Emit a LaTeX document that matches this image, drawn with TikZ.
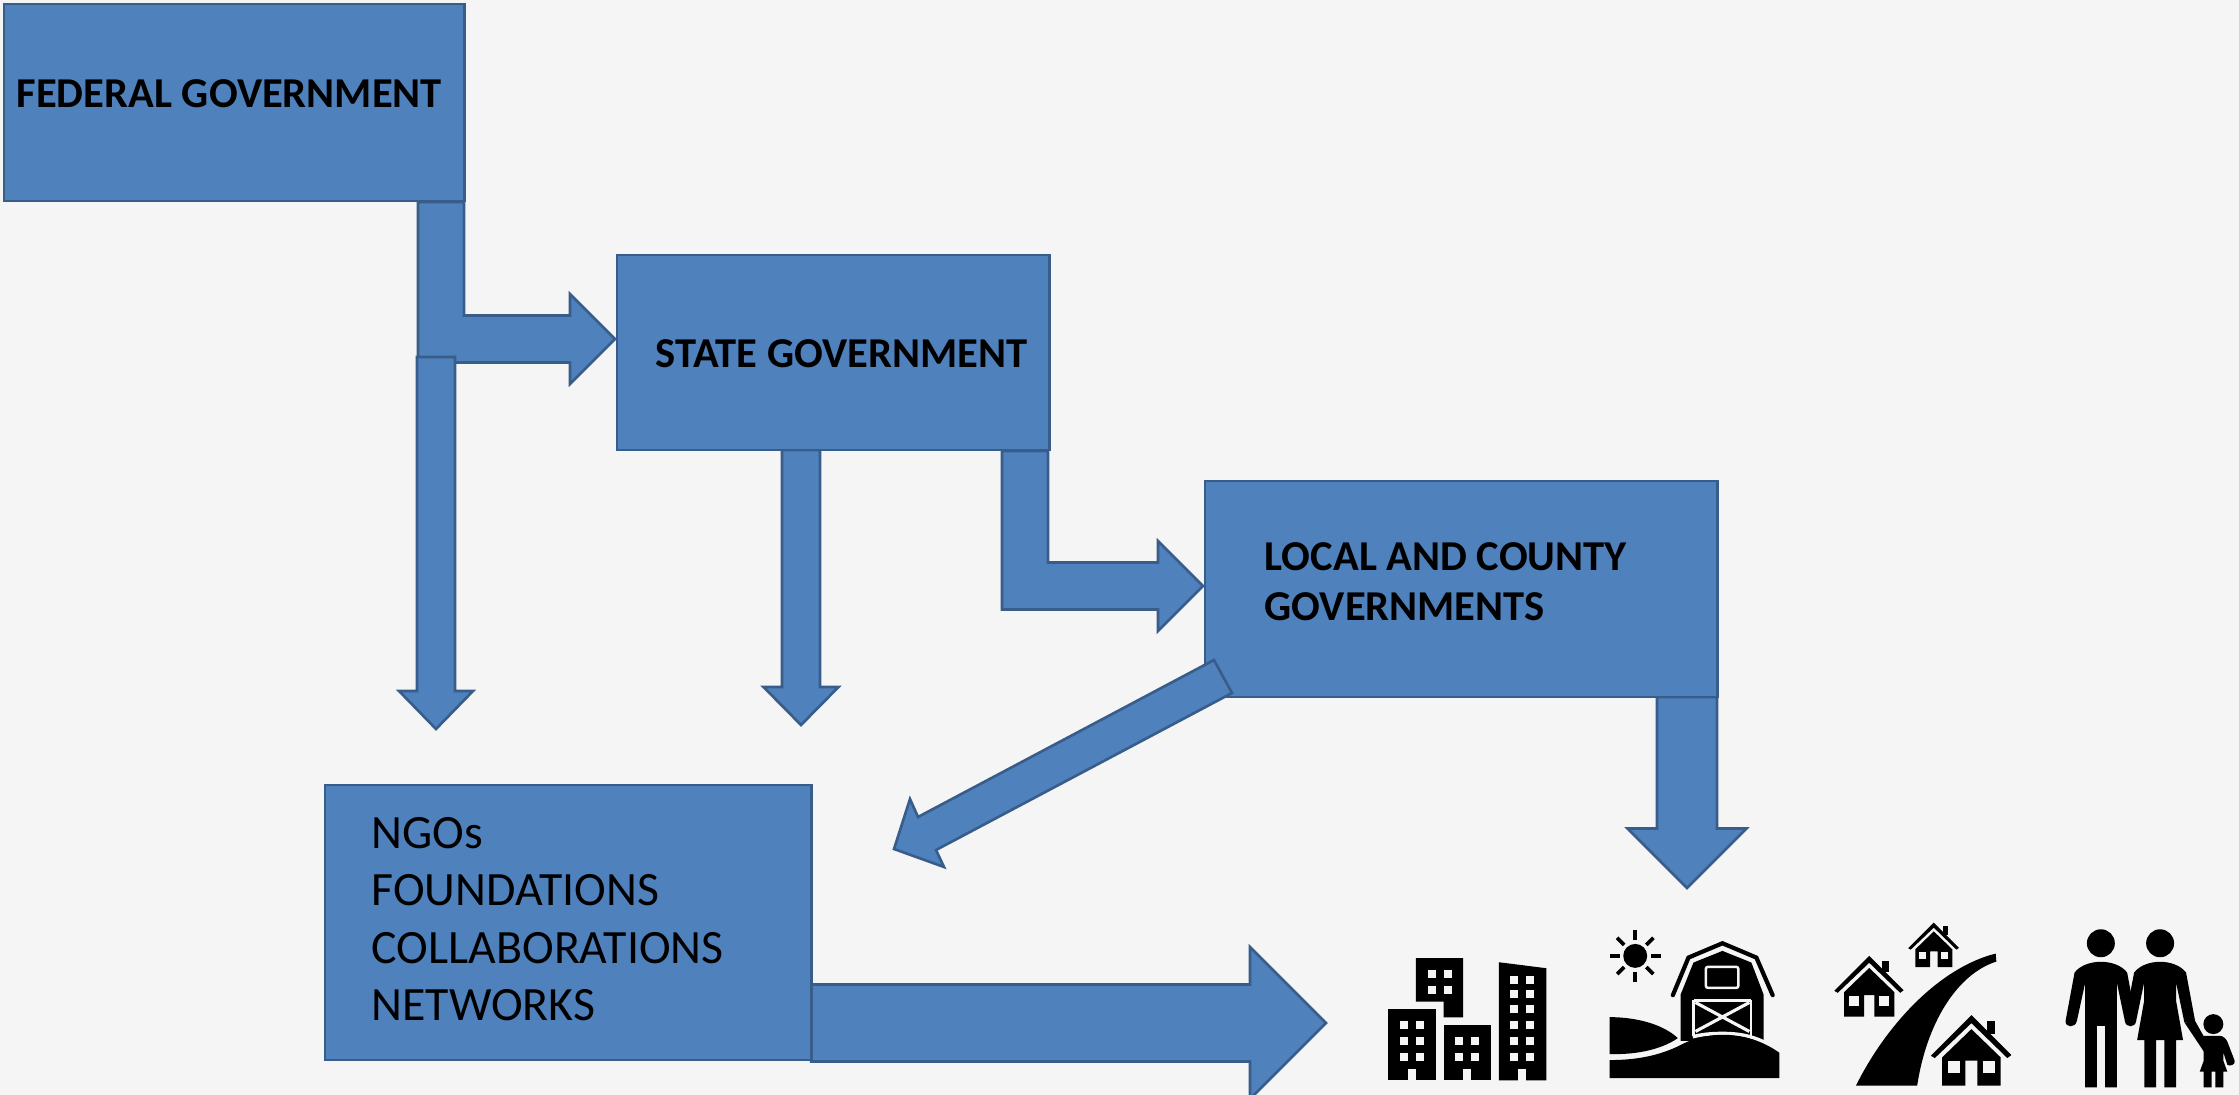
\documentclass[tikz,border=0pt]{standalone}
\usepackage{fontspec}
\setmainfont{Carlito}
\usetikzlibrary{calc}
\definecolor{paper}{HTML}{F5F5F5}
\definecolor{boxblue}{HTML}{4F81BD}
\definecolor{boxedge}{HTML}{385D8A}
\pgfdeclarelayer{paperlayer}
\pgfdeclarelayer{backlayer}
\pgfsetlayers{paperlayer,backlayer,main}
\tikzset{
govbox/.style={draw=boxedge,fill=boxblue,line width=0.75pt,anchor=north west,inner sep=0,outer sep=0},
blockarrow/.style={draw=boxedge,fill=boxblue,line width=0.75pt,line join=miter},
govtext/.style={anchor=west,inner sep=0,align=left,font=\fontsize{12.1}{14.2}\selectfont\bfseries},
ngotext/.style={anchor=west,inner sep=0,align=left,font=\fontsize{13.6}{16.3}\selectfont},
icon/.style={fill=black,draw=none},
gap/.style={fill=paper,draw=none},
}
\begin{document}
\begin{tikzpicture}[x=0.01cm,y=-0.01cm]
\begin{pgfonlayer}{paperlayer}
\fill[paper] (0,0) rectangle (2239,1095);
\end{pgfonlayer}
\useasboundingbox (0,0) rectangle (2239,1095);
\node[govbox,minimum width=4.60cm,minimum height=1.97cm] (federal) at (4,4) {};
\node[govbox,minimum width=4.32cm,minimum height=1.95cm] (state) at (617,255) {};
\node[govbox,minimum width=5.12cm,minimum height=2.16cm] (local) at (1205,481) {};
\node[govbox,minimum width=4.86cm,minimum height=2.75cm] (ngo) at (325,785) {};
\node[govtext] (federaltext) at (16,94) {FEDERAL GOVERNMENT};
\node[govtext] (statetext) at (655,354) {STATE GOVERNMENT};
\node[govtext] (localtext) at (1264,582) {LOCAL AND COUNTY\\GOVERNMENTS};
\node[ngotext] (ngotext) at (371,919) {NGOs\\FOUNDATIONS\\COLLABORATIONS\\NETWORKS};
\coordinate (fedjoin) at (436,357);
\coordinate (ngotipa) at (436,729);
\coordinate (ngotipb) at (801,725);
\coordinate (placetip) at (1687,888);
\coordinate (fedstem) at (441,202);
\coordinate (statein) at (615,339);
\coordinate (statestem) at (1025,451);
\coordinate (localin) at (1203,586);
\coordinate (bigtip) at (1326,1023);
\coordinate (ngoin) at (894,849);
\begin{pgfonlayer}{backlayer}
\foreach \src/\dst in {fedstem/statein,statestem/localin}{
\draw[blockarrow] ($(\src)+(-23,0)$) -- ($(\src |- \dst)+(-23,23.5)$) -- ($(\dst)+(-45,23.5)$) -- ($(\dst)+(-45,45)$) -- (\dst) -- ($(\dst)+(-45,-45)$) -- ($(\dst)+(-45,-23.5)$) -- ($(\src |- \dst)+(23,-23.5)$) -- ($(\src)+(23,0)$) -- cycle;
}
\foreach \src/\dst/\sw/\hw/\hl in {state.south/ngotipb/19/37.5/38,local.south/placetip/30/59.5/59.5,fedjoin/ngotipa/19/37/38}{
\draw[blockarrow] ($(\src -| \dst)+(-\sw,0)$) -- ($(\dst)+(-\sw,-\hl)$) -- ($(\dst)+(-\hw,-\hl)$) -- (\dst) -- ($(\dst)+(\hw,-\hl)$) -- ($(\dst)+(\sw,-\hl)$) -- ($(\src -| \dst)+(\sw,0)$) -- cycle;
}
\draw[blockarrow] ($(ngo.east |- bigtip)+(0,-38.5)$) -- ($(bigtip)+(-76,-38.5)$) -- ($(bigtip)+(-76,-76)$) -- (bigtip) -- ($(bigtip)+(-76,76)$) -- ($(bigtip)+(-76,38.5)$) -- ($(ngo.east |- bigtip)+(0,38.5)$) -- cycle;
\end{pgfonlayer}
\draw[blockarrow] (1214,660) -- (918,817) -- (910,799) -- (ngoin) -- (944,867) -- (936,850) -- (1232,693) -- cycle;
\begin{scope}[shift={(1360,901)},x=0.003333cm,y=-0.003333cm]
\fill[icon] (85,326) rectangle (227,539);
\fill[icon] (168,172) -- (310,172) -- (310,350) -- (251,350) -- (251,302) -- (168,302) -- cycle;
\fill[icon] (251,373) rectangle (393,539);
\fill[icon] (417,184) -- (560,202) -- (560,539) -- (417,539) -- cycle;
\foreach \x/\y in {120/361,167/361,120/408,167/408,120/456,167/456,204/208,251/208,204/255,251/255,286/408,334/408,286/456,334/456,452/225,500/225,452/267,500/267,452/314,500/314,452/361,500/361,452/408,500/408,452/456,500/456}{
\fill[gap] (\x,\y) rectangle ++(24,24);
}
\foreach \x in {145,310,476}{
\fill[gap] (\x,504) rectangle ++(23,36);
}
\fill[icon] (827,165) circle (36);
\foreach \a in {0,45,...,315}{
\draw[line width=1.05pt] ($(827,165)+({47*cos(\a)},{47*sin(\a)})$) -- ($(827,165)+({77*cos(\a)},{77*sin(\a)})$);
}
\draw[line width=1.2pt,line cap=round,miter limit=10] (940,283) -- (987,170) -- (1089,127) -- (1191,170) -- (1240,283);
\fill[icon] (963,420) -- (963,282) -- (1002,185) -- (1089,150) -- (1176,185) -- (1213,282) -- (1213,420) -- cycle;
\draw[paper,line width=0.7pt,rounded corners=0.6pt] (1039,198) rectangle (1137,261);
\draw[paper,line width=0.8pt] (1003,298) -- (1175,298) (1003,298) -- (1003,405) (1175,298) -- (1175,405);
\draw[paper,line width=0.9pt] (1008,305) -- (1170,392) (1170,305) -- (1008,392);
\fill[icon] (750,349) .. controls (830,349) and (910,370) .. (955,412) .. controls (900,450) and (820,462) .. (750,460) -- cycle;
\draw[paper,line width=1pt] (1000,408) .. controls (1030,400) and (1060,398) .. (1090,398) .. controls (1150,398) and (1190,410) .. (1230,432);
\fill[icon] (750,478) .. controls (830,478) and (900,465) .. (965,432) .. controls (1010,408) and (1060,402) .. (1090,402) .. controls (1150,402) and (1210,420) .. (1260,456) -- (1260,532) -- (750,532) -- cycle;
\end{scope}
\begin{scope}[shift={(1800,901)},x=0.003333cm,y=-0.003333cm]
\fill[icon] (168,555) .. controls (260,370) and (420,200) .. (588,158) -- (590,182) .. controls (470,220) and (380,370) .. (352,555) -- cycle;
\foreach \hx/\hy/\hs in {515/343/1,208/165/0.86,402/65/0.63}{
\begin{scope}[shift={(\hx,\hy)},x=\hs*0.003333cm,y=-\hs*0.003333cm]
\fill[icon] (-122,122) -- (0,0) -- (120,120) -- (108,129) -- (0,24) -- (-110,129) -- cycle;
\fill[icon] (46,17) rectangle (70,57);
\fill[icon] (-88,127) -- (0,42) -- (88,127) -- (88,212) -- (18,212) -- (18,137) -- (-18,137) -- (-18,212) -- (-88,212) -- cycle;
\fill[gap] (-70,139) rectangle (-35,174);
\fill[gap] (35,139) rectangle (70,174);
\end{scope}
}
\foreach \x/\y/\r in {904/127/42,1082/127/42,1242/370/30}{
\fill[icon] (\x,\y) circle (\r);
}
\fill[icon] (857,245) -- (857,560) -- (892,560) -- (892,375) -- (917,375) -- (917,560) -- (952,560) -- (952,245) -- (976,360) .. controls (978,382) and (1008,382) .. (1010,360) -- (983,215) .. controls (950,172) and (858,172) .. (825,215) -- (798,360) .. controls (796,382) and (828,382) .. (832,360) -- cycle;
\fill[icon] (1034,245) -- (1034,300) -- (1013,418) -- (1035,418) -- (1035,560) -- (1070,560) -- (1070,418) -- (1095,418) -- (1095,560) -- (1130,560) -- (1130,418) -- (1151,418) -- (1130,300) -- (1130,245) -- (1155,365) -- (1188,365) -- (1160,215) .. controls (1127,172) and (1037,172) .. (1004,215) -- (976,360) -- (1010,360) -- cycle;
\fill[icon] (1155,365) -- (1188,362) -- (1215,410) -- (1215,455) -- cycle;
\fill[icon] (1213,405) -- (1213,480) -- (1201,513) -- (1213,513) -- (1213,560) -- (1237,560) -- (1237,513) -- (1248,513) -- (1248,560) -- (1272,560) -- (1272,513) -- (1284,513) -- (1272,480) -- (1272,455) -- (1284,492) .. controls (1290,498) and (1310,492) .. (1306,480) -- (1285,425) .. controls (1280,412) and (1270,405) .. (1260,405) -- cycle;
\end{scope}
\end{tikzpicture}
\end{document}
